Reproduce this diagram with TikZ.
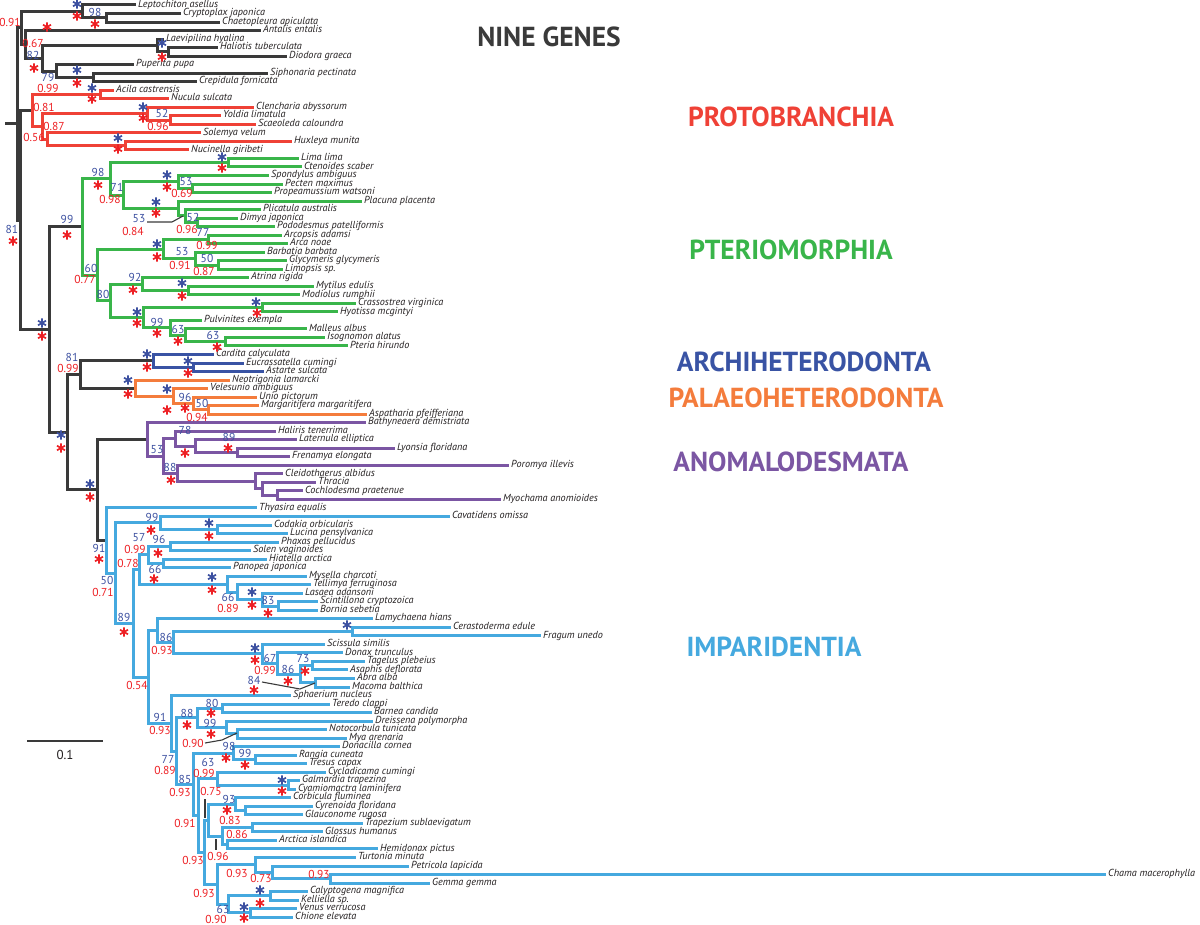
\documentclass[tikz,border=0pt]{standalone}
\usepackage{fontspec}
\usetikzlibrary{calc}
\newfontfamily\ptsans{PT Sans}
\definecolor{cK}{HTML}{3A3A3A}
\definecolor{cR}{HTML}{EF4136}
\definecolor{cG}{HTML}{39B54A}
\definecolor{cBd}{HTML}{3953A4}
\definecolor{cO}{HTML}{F47C3C}
\definecolor{cP}{HTML}{7B56A3}
\definecolor{cL}{HTML}{45A9DF}
\definecolor{tB}{HTML}{3C50A0}
\definecolor{tR}{HTML}{ED2024}
\definecolor{tK}{HTML}{231F20}
\tikzset{
  br/.style={line width=3pt, line join=miter},
  taxon/.style={font=\ptsans\itshape\fontsize{10.2}{10.2}\selectfont, text=tK, anchor=mid west, inner sep=0pt, xshift=2pt},
  bsl/.style={font=\ptsans\fontsize{11.5}{11.5}\selectfont, text=tB, inner sep=0pt},
  ppl/.style={font=\ptsans\fontsize{11.5}{11.5}\selectfont, text=tR, inner sep=0pt},
  grp/.style={font=\ptsans\bfseries\fontsize{27.5}{27.5}\selectfont, inner sep=0pt},
  lead/.style={draw=cK, line width=1.1pt},
  ast/.pic={\draw[line width=1.7pt] (0,-4.6)--(0,4.6) (-4,-2.3)--(4,2.3) (-4,2.3)--(4,-2.3);}
}
\newcommand\leaf[4]{\coordinate (#1) at (#3,{5+(#2-1)*8.525}); \node[taxon] (t#1) at (#1) {#4};}
\newcommand\inode[4]{\path ($(#3)!0.5!(#4)$) coordinate (m#1); \coordinate (#1) at (#2,0 |- m#1);}
\newcommand\kids[3]{\foreach \c in {#3}{\draw[br,#1] (#2) |- (\c);}}
\newcommand\supB[3]{\node[bsl] at (#1,#2) {#3};}
\newcommand\supR[3]{\node[ppl] at (#1,#2) {#3};}
\newcommand\astB[2]{\pic[color=tB] at (#1,#2) {ast};}
\newcommand\astR[2]{\pic[color=tR] at (#1,#2) {ast};}
\begin{document}
\begin{tikzpicture}[x=1pt,y=-1pt]
\useasboundingbox (0,0) rectangle (1200,925);
% ---------------- leaves
\leaf{l1}{1}{136}{Leptochiton asellus}
\leaf{l2}{2}{181}{Cryptoplax japonica}
\leaf{l3}{3}{220}{Chaetopleura apiculata}
\leaf{l4}{4}{261}{Antalis entalis}
\leaf{l5}{5}{164}{Laevipilina hyalina}
\leaf{l6}{6}{218}{Haliotis tuberculata}
\leaf{l7}{7}{287}{Diodora graeca}
\leaf{l8}{8}{134}{Puperita pupa}
\leaf{l9}{9}{268}{Siphonaria pectinata}
\leaf{l10}{10}{197}{Crepidula fornicata}
\leaf{l11}{11}{114}{Acila castrensis}
\leaf{l12}{12}{169}{Nucula sulcata}
\leaf{l13}{13}{254}{Clencharia abyssorum}
\leaf{l14}{14}{221}{Yoldia limatula}
\leaf{l15}{15}{256}{Scaeoleda caloundra}
\leaf{l16}{16}{201}{Solemya velum}
\leaf{l17}{17}{292}{Huxleya munita}
\leaf{l18}{18}{189}{Nucinella giribeti}
\leaf{l19}{19}{299}{Lima lima}
\leaf{l20}{20}{302}{Ctenoides scaber}
\leaf{l21}{21}{269}{Spondylus ambiguus}
\leaf{l22}{22}{283}{Pecten maximus}
\leaf{l23}{23}{272}{Propeamussium watsoni}
\leaf{l24}{24}{362}{Placuna placenta}
\leaf{l25}{25}{261}{Plicatula australis}
\leaf{l26}{26}{238}{Dimya japonica}
\leaf{l27}{27}{275}{Pododesmus patelliformis}
\leaf{l28}{28}{282}{Arcopsis adamsi}
\leaf{l29}{29}{288}{Arca noae}
\leaf{l30}{30}{265}{Barbatia barbata}
\leaf{l31}{31}{287}{Glycymeris glycymeris}
\leaf{l32}{32}{283}{Limopsis sp.}
\leaf{l33}{33}{249}{Atrina rigida}
\leaf{l34}{34}{314}{Mytilus edulis}
\leaf{l35}{35}{300}{Modiolus rumphii}
\leaf{l36}{36}{356}{Crassostrea virginica}
\leaf{l37}{37}{338}{Hyotissa mcgintyi}
\leaf{l38}{38}{202}{Pulvinites exempla}
\leaf{l39}{39}{307}{Malleus albus}
\leaf{l40}{40}{325}{Isognomon alatus}
\leaf{l41}{41}{348}{Pteria hirundo}
\leaf{l42}{42}{214}{Cardita calyculata}
\leaf{l43}{43}{244}{Eucrassatella cumingi}
\leaf{l44}{44}{264}{Astarte sulcata}
\leaf{l45}{45}{230}{Neotrigonia lamarcki}
\leaf{l46}{46}{208}{Velesunio ambiguus}
\leaf{l47}{47}{257}{Unio pictorum}
\leaf{l48}{48}{259}{Margaritifera margaritifera}
\leaf{l49}{49}{367}{Aspatharia pfeifferiana}
\leaf{l50}{50}{366}{Bathyneaera demistriata}
\leaf{l51}{51}{276}{Haliris tenerrima}
\leaf{l52}{52}{297}{Laternula elliptica}
\leaf{l53}{53}{395}{Lyonsia floridana}
\leaf{l54}{54}{290}{Frenamya elongata}
\leaf{l55}{55}{509}{Poromya illevis}
\leaf{l56}{56}{283}{Cleidothaerus albidus}
\leaf{l57}{57}{316}{Thracia}
\leaf{l58}{58}{303}{Cochlodesma praetenue}
\leaf{l59}{59}{501}{Myochama anomioides}
\leaf{l60}{60}{257}{Thyasira equalis}
\leaf{l61}{61}{450}{Cavatidens omissa}
\leaf{l62}{62}{272}{Codakia orbicularis}
\leaf{l63}{63}{288}{Lucina pensylvanica}
\leaf{l64}{64}{279}{Phaxas pellucidus}
\leaf{l65}{65}{251}{Solen vaginoides}
\leaf{l66}{66}{267}{Hiatella arctica}
\leaf{l67}{67}{231}{Panopea japonica}
\leaf{l68}{68}{307}{Mysella charcoti}
\leaf{l69}{69}{311}{Tellimya ferruginosa}
\leaf{l70}{70}{303}{Lasaea adansoni}
\leaf{l71}{71}{318}{Scintillona cryptozoica}
\leaf{l72}{72}{318}{Bornia sebetia}
\leaf{l73}{73}{373}{Lamychaena hians}
\leaf{l74}{74}{451}{Cerastoderma edule}
\leaf{l75}{75}{541}{Fragum unedo}
\leaf{l76}{76}{325}{Scissula similis}
\leaf{l77}{77}{343}{Donax trunculus}
\leaf{l78}{78}{365}{Tagelus plebeius}
\leaf{l79}{79}{348}{Asaphis deflorata}
\leaf{l80}{80}{355}{Abra alba}
\leaf{l81}{81}{350}{Macoma balthica}
\leaf{l82}{82}{291}{Sphaerium nucleus}
\leaf{l83}{83}{330}{Teredo clappi}
\leaf{l84}{84}{372}{Barnea candida}
\leaf{l85}{85}{373}{Dreissena polymorpha}
\leaf{l86}{86}{327}{Notocorbula tunicata}
\leaf{l87}{87}{347}{Mya arenaria}
\leaf{l88}{88}{340}{Donacilla cornea}
\leaf{l89}{89}{297}{Rangia cuneata}
\leaf{l90}{90}{307}{Tresus capax}
\leaf{l91}{91}{326}{Cycladicama cumingi}
\leaf{l92}{92}{300}{Galmardia trapezina}
\leaf{l93}{93}{296}{Cyamiomactra laminifera}
\leaf{l94}{94}{291}{Corbicula fluminea}
\leaf{l95}{95}{313}{Cyrenoida floridana}
\leaf{l96}{96}{303}{Glauconome rugosa}
\leaf{l97}{97}{363}{Trapezium sublaevigatum}
\leaf{l98}{98}{323}{Glossus humanus}
\leaf{l99}{99}{277}{Arctica islandica}
\leaf{l100}{100}{378}{Hemidonax pictus}
\leaf{l101}{101}{356}{Turtonia minuta}
\leaf{l102}{102}{409}{Petricola lapicida}
\leaf{l103}{103}{1106}{Chama macerophylla}
\leaf{l104}{104}{430}{Gemma gemma}
\leaf{l105}{105}{308}{Calyptogena magnifica}
\leaf{l106}{106}{299}{Kelliella sp.}
\leaf{l107}{107}{297}{Venus verrucosa}
\leaf{l108}{108}{293}{Chione elevata}
% ---------------- internal nodes
\inode{nPB}{106}{l2}{l3}
\inode{nPoly}{82}{l1}{nPB}
\inode{nHD}{168}{l6}{l7}
\inode{nLHD}{157}{l5}{nHD}
\inode{nSC}{93}{l9}{l10}
\inode{nPSC}{56}{l8}{nSC}
\inode{nQ}{42}{nLHD}{nPSC}
\inode{nN1}{25}{l4}{nQ}
\inode{nO}{21}{nPoly}{nN1}
\inode{nAN}{100}{l11}{l12}
\inode{nYS}{170}{l14}{l15}
\inode{nCYS}{147}{l13}{nYS}
\inode{nHN}{125}{l17}{l18}
\inode{nSHN}{47}{l16}{nHN}
\inode{nNUC}{42}{nCYS}{nSHN}
\inode{nPROT}{32}{nAN}{nNUC}
\inode{nLC}{228}{l19}{l20}
\inode{nPP}{192}{l22}{l23}
\inode{nC}{178}{l21}{nPP}
\inode{nDP}{197}{l26}{l27}
\inode{nDtwo}{185}{l25}{nDP}
\inode{nD}{178}{l24}{nDtwo}
\inode{nB}{123}{nC}{nD}
\inode{nA}{110}{nLC}{nB}
\inode{nAA}{208}{l28}{l29}
\inode{nGL}{218}{l31}{l32}
\inode{nBGL}{195}{l30}{nGL}
\inode{nARC}{163}{nAA}{nBGL}
\inode{nMM}{188}{l34}{l35}
\inode{nAMM}{142}{l33}{nMM}
\inode{nCH}{262}{l36}{l37}
\inode{nIP}{225}{l40}{l41}
\inode{nMIP}{185}{l39}{nIP}
\inode{nPMIP}{170}{l38}{nMIP}
\inode{nOST}{143}{nCH}{nPMIP}
\inode{nF}{110}{nAMM}{nOST}
\inode{nE}{97}{nARC}{nF}
\inode{nPT}{82}{nA}{nE}
\inode{nEA}{193}{l43}{l44}
\inode{nARCH}{153}{l42}{nEA}
\inode{nMA}{208}{l48}{l49}
\inode{nUMA}{193}{l47}{nMA}
\inode{nVUMA}{173}{l46}{nUMA}
\inode{nPAL}{135}{l45}{nVUMA}
\inode{nAP}{80}{nARCH}{nPAL}
\inode{nLF}{237}{l53}{l54}
\inode{nLLF}{195}{l52}{nLF}
\inode{nHLLF}{175}{l51}{nLLF}
\inode{nCM}{277}{l58}{l59}
\inode{nTCM}{262}{l57}{nCM}
\inode{nCTCM}{255}{l56}{nTCM}
\inode{nPC}{177}{l55}{nCTCM}
\inode{nHP}{163}{nHLLF}{nPC}
\inode{nANOM}{147}{l50}{nHP}
\inode{nCL}{217}{l62}{l63}
\inode{nLUC}{160}{l61}{nCL}
\inode{nPS}{170}{l64}{l65}
\inode{nHPtwo}{163}{l66}{l67}
\inode{nSH}{148}{nPS}{nHPtwo}
\inode{nSB}{278}{l71}{l72}
\inode{nLSB}{262}{l70}{nSB}
\inode{nTLSB}{237}{l69}{nLSB}
\inode{nGAL}{227}{l68}{nTLSB}
\inode{nBb}{139}{nSH}{nGAL}
\inode{nCF}{352}{l74}{l75}
\inode{nTA}{312}{l78}{l79}
\inode{nAM}{315}{l80}{l81}
\inode{nTEL}{300}{nTA}{nAM}
\inode{nDTEL}{277}{l77}{nTEL}
\inode{nSDT}{262}{l76}{nDTEL}
\inode{nX}{173}{nCF}{nSDT}
\inode{nY}{157}{l73}{nX}
\inode{nTB}{222}{l83}{l84}
\inode{nNM}{237}{l86}{l87}
\inode{nDNM}{226}{l85}{nNM}
\inode{nMYO}{197}{nTB}{nDNM}
\inode{nRT}{255}{l89}{l90}
\inode{nDRT}{233}{l88}{nRT}
\inode{nGC}{288}{l92}{l93}
\inode{nCGC}{217}{l91}{nGC}
\inode{nCG}{245}{l95}{l96}
\inode{nCCG}{235}{l94}{nCG}
\inode{nTG}{252}{l97}{l98}
\inode{nAH}{227}{l99}{l100}
\inode{nTGAH}{222}{nTG}{nAH}
\inode{nCYR}{208}{nCCG}{nTGAH}
\inode{nCGtwo}{330}{l103}{l104}
\inode{nPCG}{272}{l102}{nCGtwo}
\inode{nTPCG}{255}{l101}{nPCG}
\inode{nCK}{270}{l105}{l106}
\inode{nVC}{250}{l107}{l108}
\inode{nCKVC}{228}{nCK}{nVC}
\inode{nVENtwo}{217}{nTPCG}{nCKVC}
\inode{nVfive}{204}{nCYR}{nVENtwo}
\inode{nVfour}{198}{nCGC}{nVfive}
\inode{nVthree}{193}{nDRT}{nVfour}
\inode{nVtwo}{176}{nMYO}{nVthree}
\inode{nVEN}{171}{l82}{nVtwo}
\inode{nCc}{148}{nY}{nVEN}
\inode{nLOW}{133}{nBb}{nCc}
\inode{nItwo}{115}{nLUC}{nLOW}
\inode{nIMP}{106}{l60}{nItwo}
\inode{nAI}{97}{nANOM}{nIMP}
\inode{nHET}{67}{nAP}{nAI}
\inode{nAUTO}{49}{nPT}{nHET}
\inode{nBIV}{20}{nPROT}{nAUTO}
\inode{nROOT}{17}{nO}{nBIV}
\coordinate (root0) at (5,0 |- nROOT);
% ---------------- branches
\draw[br,cK] (root0) -- (nROOT);
\kids{cK}{nROOT}{nO,nBIV}
\kids{cK}{nO}{nPoly,nN1}
\kids{cK}{nPoly}{l1,nPB}
\kids{cK}{nPB}{l2,l3}
\kids{cK}{nN1}{l4,nQ}
\kids{cK}{nQ}{nLHD,nPSC}
\kids{cK}{nLHD}{l5,nHD}
\kids{cK}{nHD}{l6,l7}
\kids{cK}{nPSC}{l8,nSC}
\kids{cK}{nSC}{l9,l10}
\kids{cK}{nBIV}{nPROT,nAUTO}
\kids{cR}{nPROT}{nAN,nNUC}
\kids{cR}{nAN}{l11,l12}
\kids{cR}{nNUC}{nCYS,nSHN}
\kids{cR}{nCYS}{l13,nYS}
\kids{cR}{nYS}{l14,l15}
\kids{cR}{nSHN}{l16,nHN}
\kids{cR}{nHN}{l17,l18}
\kids{cK}{nAUTO}{nPT,nHET}
\kids{cG}{nPT}{nA,nE}
\kids{cG}{nA}{nLC,nB}
\kids{cG}{nLC}{l19,l20}
\kids{cG}{nB}{nC,nD}
\kids{cG}{nC}{l21,nPP}
\kids{cG}{nPP}{l22,l23}
\kids{cG}{nD}{l24,nDtwo}
\kids{cG}{nDtwo}{l25,nDP}
\kids{cG}{nDP}{l26,l27}
\kids{cG}{nE}{nARC,nF}
\kids{cG}{nARC}{nAA,nBGL}
\kids{cG}{nAA}{l28,l29}
\kids{cG}{nBGL}{l30,nGL}
\kids{cG}{nGL}{l31,l32}
\kids{cG}{nF}{nAMM,nOST}
\kids{cG}{nAMM}{l33,nMM}
\kids{cG}{nMM}{l34,l35}
\kids{cG}{nOST}{nCH,nPMIP}
\kids{cG}{nCH}{l36,l37}
\kids{cG}{nPMIP}{l38,nMIP}
\kids{cG}{nMIP}{l39,nIP}
\kids{cG}{nIP}{l40,l41}
\kids{cK}{nHET}{nAP,nAI}
\kids{cK}{nAP}{nARCH,nPAL}
\kids{cK}{nAI}{nANOM,nIMP}
\kids{cBd}{nARCH}{l42,nEA}
\kids{cBd}{nEA}{l43,l44}
\kids{cO}{nPAL}{l45,nVUMA}
\kids{cO}{nVUMA}{l46,nUMA}
\kids{cO}{nUMA}{l47,nMA}
\kids{cO}{nMA}{l48,l49}
\kids{cP}{nANOM}{l50,nHP}
\kids{cP}{nHP}{nHLLF,nPC}
\kids{cP}{nHLLF}{l51,nLLF}
\kids{cP}{nLLF}{l52,nLF}
\kids{cP}{nLF}{l53,l54}
\kids{cP}{nPC}{l55,nCTCM}
\kids{cP}{nCTCM}{l56,nTCM}
\kids{cP}{nTCM}{l57,nCM}
\kids{cP}{nCM}{l58,l59}
\kids{cL}{nIMP}{l60,nItwo}
\kids{cL}{nItwo}{nLUC,nLOW}
\kids{cL}{nLUC}{l61,nCL}
\kids{cL}{nCL}{l62,l63}
\kids{cL}{nLOW}{nBb,nCc}
\kids{cL}{nBb}{nSH,nGAL}
\kids{cL}{nSH}{nPS,nHPtwo}
\kids{cL}{nPS}{l64,l65}
\kids{cL}{nHPtwo}{l66,l67}
\kids{cL}{nGAL}{l68,nTLSB}
\kids{cL}{nTLSB}{l69,nLSB}
\kids{cL}{nLSB}{l70,nSB}
\kids{cL}{nSB}{l71,l72}
\kids{cL}{nCc}{nY,nVEN}
\kids{cL}{nY}{l73,nX}
\kids{cL}{nX}{nCF,nSDT}
\kids{cL}{nCF}{l74,l75}
\kids{cL}{nSDT}{l76,nDTEL}
\kids{cL}{nDTEL}{l77,nTEL}
\kids{cL}{nTEL}{nTA,nAM}
\kids{cL}{nTA}{l78,l79}
\kids{cL}{nAM}{l80,l81}
\kids{cL}{nVEN}{l82,nVtwo}
\kids{cL}{nVtwo}{nMYO,nVthree}
\kids{cL}{nMYO}{nTB,nDNM}
\kids{cL}{nTB}{l83,l84}
\kids{cL}{nDNM}{l85,nNM}
\kids{cL}{nNM}{l86,l87}
\kids{cL}{nVthree}{nDRT,nVfour}
\kids{cL}{nDRT}{l88,nRT}
\kids{cL}{nRT}{l89,l90}
\kids{cL}{nVfour}{nCGC,nVfive}
\kids{cL}{nCGC}{l91,nGC}
\kids{cL}{nGC}{l92,l93}
\kids{cL}{nVfive}{nCYR,nVENtwo}
\kids{cL}{nCYR}{nCCG,nTGAH}
\kids{cL}{nCCG}{l94,nCG}
\kids{cL}{nCG}{l95,l96}
\kids{cL}{nTGAH}{nTG,nAH}
\kids{cL}{nTG}{l97,l98}
\kids{cL}{nAH}{l99,l100}
\kids{cL}{nVENtwo}{nTPCG,nCKVC}
\kids{cL}{nTPCG}{l101,nPCG}
\kids{cL}{nPCG}{l102,nCGtwo}
\kids{cL}{nCGtwo}{l103,l104}
\kids{cL}{nCKVC}{nCK,nVC}
\kids{cL}{nCK}{l105,l106}
\kids{cL}{nVC}{l107,l108}
% ---------------- leader lines
\draw[lead] (147,222) -- (172,222) -- (183,216);
\draw[lead] (262,682) -- (300,689) -- (315,683);
\draw[lead] (205,743) -- (222,740) -- (237,733);
\draw[lead] (205,799) -- (205,818);
\draw[lead] (216,839) -- (216,850);
% ---------------- support values
\supR{10}{22}{0.91}
\astB{77}{4} \astR{77}{16}
\supB{95}{12}{98} \astR{95}{24}
\astR{47}{27}
\supR{33}{43}{0.67} \supB{33}{55}{82} \astR{34}{68}
\astB{162}{43} \astR{162}{57}
\astB{77}{70} \astR{77}{83}
\supB{48}{77}{79}
\supR{48}{88}{0.99}
\astB{92}{88} \astR{92}{99}
\supR{44}{107}{0.81}
\astB{143}{107} \astR{143}{118}
\supB{162}{113}{52} \supR{158}{126}{0.96}
\supR{54}{126}{0.87}
\supR{34}{137}{0.56}
\astB{118}{138} \astR{118}{149}
\supB{12}{229}{81} \astR{13}{241}
\supB{67}{219}{99} \astR{67}{235}
\supB{98}{172}{98} \astR{98}{185}
\supB{117}{187}{71} \supR{110}{199}{0.98}
\astB{222}{157} \astR{222}{168}
\astB{167}{175} \astR{167}{187}
\supB{186}{182}{53} \supR{182}{193}{0.69}
\astB{156}{202} \astR{156}{213}
\supB{139}{219}{53} \supR{133}{231}{0.84}
\supB{193}{217}{52} \supR{187}{229}{0.96}
\supB{203}{232}{77} \supR{207}{245}{0.99}
\astB{157}{244} \astR{157}{257}
\supB{182}{252}{53} \supR{180}{265}{0.91}
\supB{207}{258}{50} \supR{204}{271}{0.87}
\supB{91}{268}{60} \supR{85}{279}{0.77}
\supB{135}{277}{92} \astR{133}{290}
\supB{103}{294}{80}
\astB{182}{283} \astR{182}{296}
\astB{256}{302} \astR{257}{313}
\astB{137}{312} \astR{137}{323}
\supB{157}{322}{99} \astR{157}{333}
\supB{178}{329}{63} \astR{178}{341}
\supB{213}{335}{63} \astR{217}{347}
\astB{42}{323} \astR{42}{336}
\supB{72}{357}{81} \supR{68}{368}{0.99}
\astB{147}{354} \astR{147}{367}
\astB{188}{361} \astR{188}{373}
\astB{128}{380} \astR{128}{394}
\astB{167}{389} \astR{167}{410}
\supB{185}{397}{96} \astR{185}{408}
\supB{202}{403}{50} \supR{197}{417}{0.94}
\astB{61}{435} \astR{61}{448}
\supB{157}{450}{53}
\supB{185}{430}{78} \astR{185}{453}
\supB{229}{437}{89} \astR{228}{448}
\supB{170}{467}{88} \astR{171}{480}
\astB{90}{484} \astR{90}{497}
\supB{99}{548}{91} \astR{99}{559}
\supB{107}{580}{50} \supR{103}{592}{0.71}
\supB{152}{517}{99} \astR{151}{530}
\astB{209}{523} \astR{209}{536}
\supB{139}{538}{57} \supR{135}{549}{0.99}
\supB{159}{539}{96} \astR{158}{553}
\supR{128}{563}{0.78}
\supB{155}{569}{66} \astR{154}{579}
\astB{212}{577} \astR{212}{590}
\supB{228}{597}{66} \supR{228}{608}{0.89}
\astB{252}{592} \astR{252}{605}
\supB{268}{600}{83} \astR{268}{613}
\supB{124}{617}{89} \astR{124}{632}
\astB{347}{625}
\supB{166}{637}{86} \supR{162}{650}{0.93}
\astB{255}{648} \astR{255}{660}
\supB{270}{658}{67} \supR{265}{670}{0.99}
\supB{303}{659}{73} \astR{305}{671}
\supB{288}{669}{86} \astR{288}{681}
\supB{254}{680}{84} \astR{254}{690}
\supR{137}{685}{0.54}
\supB{212}{703}{80} \astR{211}{713}
\supB{187}{713}{88} \astR{187}{725}
\supB{210}{723}{99} \astR{211}{734}
\supR{193}{743}{0.90}
\supB{160}{717}{91} \supR{160}{730}{0.93}
\supB{229}{746}{98} \astR{226}{758}
\supB{245}{753}{99} \astR{245}{765}
\supB{168}{759}{77} \supR{165}{770}{0.89}
\supB{208}{762}{63} \supR{204}{773}{0.99}
\supB{185}{779}{85} \supR{180}{792}{0.93}
\astB{282}{780} \astR{282}{791}
\supR{211}{791}{0.75}
\supB{229}{799}{93} \astR{227}{810} \supR{230}{820}{0.83}
\supR{185}{823}{0.91}
\supR{237}{834}{0.86}
\supR{218}{856}{0.96}
\supR{193}{860}{0.93}
\supR{237}{873}{0.93}
\supR{261}{878}{0.73}
\supR{319}{874}{0.93}
\supR{204}{893}{0.93}
\astB{260}{890} \astR{260}{903}
\astB{244}{907} \astR{244}{918}
\supB{223}{909}{63} \supR{216}{919.5}{0.90}
% ---------------- group labels
\node[grp,text=cK] (gNine) at (549,37) {NINE GENES};
\node[grp,text=cR] (gProt) at (791,117) {PROTOBRANCHIA};
\node[grp,text=cG] (gPter) at (791,250) {PTERIOMORPHIA};
\node[grp,text=cBd] (gArch) at (804,362) {ARCHIHETERODONTA};
\node[grp,text=cO] (gPala) at (806,398) {PALAEOHETERODONTA};
\node[grp,text=cP] (gAnom) at (791,462) {ANOMALODESMATA};
\node[grp,text=cL] (gImp) at (774,647) {IMPARIDENTIA};
% ---------------- scale bar
\coordinate (sbA) at (27,741);
\coordinate (sbB) at (103,741);
\draw[cK,line width=2.2pt] (sbA) -- (sbB);
\node[font=\ptsans\fontsize{13}{13}\selectfont, text=tK, inner sep=0pt] (sbL) at (65,755) {0.1};
\end{tikzpicture}
\end{document}
